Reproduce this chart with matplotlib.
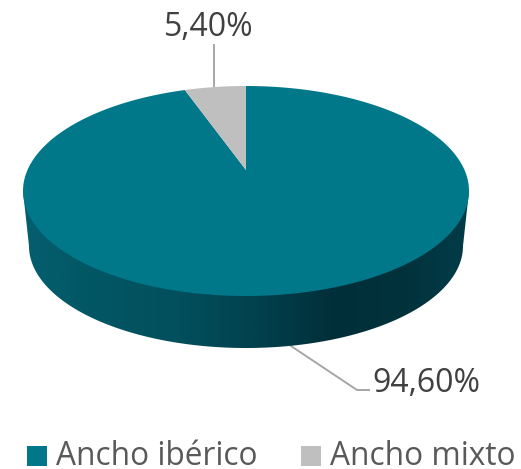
import numpy as np
import matplotlib
matplotlib.use("Agg")
import matplotlib.pyplot as plt
from matplotlib.colors import LinearSegmentedColormap
from matplotlib.patches import Polygon, Rectangle

categories = ["Ancho ibérico", "Ancho mixto"]
shares = [94.6, 5.4]
colors = ["#00788a", "#bfbfbf"]

plt.rcParams['font.family'] = ['Open Sans', 'DejaVu Sans']

# top of the pie is a tilted disc, so it goes through a small perspective map
apex_x, apex_y = 246, 170
scale_x, scale_y, tilt = 218.5, 100.8, 0.2


def project(theta):
    u = np.sin(theta)
    v = np.cos(theta)
    w = 1 + tilt * v
    return apex_x + scale_x * u / w, apex_y - scale_y * v / w


def slice_points(start, stop):
    theta = np.linspace(start, stop, 300)
    x, y = project(theta)
    return np.column_stack([np.r_[apex_x, x], np.r_[apex_y, y]])


fig = plt.figure(figsize=(5.21, 4.69), dpi=100)
ax = fig.add_axes([0, 0, 1, 1])

# side wall, gradient image clipped to the outline of the body
side_cmap = LinearSegmentedColormap.from_list("side", [
    (0.00, "#035f6e"), (0.12, "#035866"), (0.35, "#024f5d"), (0.52, "#02414e"),
    (0.70, "#012f39"), (0.85, "#01323c"), (1.00, "#023c48")])
gradient = np.linspace(0, 1, 256).reshape(1, -1)
side = ax.imshow(gradient, cmap=side_cmap, extent=[23, 469, 349, 180], aspect="auto", zorder=1)
t = np.linspace(np.pi / 2, 3 * np.pi / 2, 200)
lower_x = 246 + 217 * np.sin(t)
lower_y = 246 - 102 * np.cos(t)
outline = np.column_stack([np.r_[469, lower_x, 23], np.r_[191, lower_y, 191]])
side.set_clip_path(Polygon(outline, transform=ax.transData))

# top face, from the shares; grey slice ends at twelve o'clock
fractions = np.array(shares) / sum(shares)
start = 0.0
for frac, col in zip(fractions, colors):
    stop = start + 2 * np.pi * frac
    ax.add_patch(Polygon(slice_points(start, stop), closed=True, fc=col, ec="none", zorder=2))
    start = stop

# leader lines
ax.plot([214, 214], [45, 88], color="#a6a6a6", lw=1.4, zorder=1)
ax.plot([291, 357, 369], [346, 390, 390], color="#a6a6a6", lw=1.4, zorder=0)


def pct(v):
    return f"{v:.2f}%".replace(".", ",")


ax.text(209, 28, pct(shares[1]), fontsize=23, color="#404040", ha="center", va="center")
ax.text(426, 383, pct(shares[0]), fontsize=23, color="#404040", ha="center", va="center")

# legend
legend_x = [27, 301]
for name, col, lx in zip(categories, colors, legend_x):
    ax.add_patch(Rectangle((lx, 446), 20, 20, fc=col, ec="none"))
    ax.text(lx + 29, 465, name, fontsize=22.8, color="#595959", ha="left", va="baseline")

ax.set_xlim(0, 521)
ax.set_ylim(469, 0)
ax.axis("off")
fig.savefig("out.png", dpi=100)
